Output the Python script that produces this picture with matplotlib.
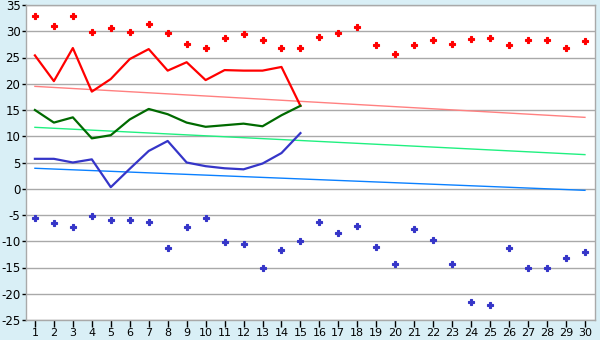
"""
Daily temperatures: observed max/min (markers), running lines for the
first half of the month and linear trend lines.
"""
import matplotlib
matplotlib.use("Agg")
import matplotlib.pyplot as plt

days = list(range(1, 31))

# observed extremes (markers)
max_temp = [32.9, 31.0, 32.9, 29.8, 30.6, 29.8, 31.3, 29.6, 27.6, 26.8,
            28.8, 29.4, 28.3, 26.8, 26.9, 29.0, 29.6, 30.9, 27.3, 25.7,
            27.3, 28.3, 27.5, 28.5, 28.7, 27.3, 28.3, 28.3, 26.8, 28.1]
min_temp = [-5.6, -6.6, -7.2, -5.1, -6.0, -6.0, -6.4, -11.2, -7.2, -5.6,
            -10.2, -10.6, -15.0, -11.7, -10.0, -6.4, -8.5, -7.0, -11.0, -14.4,
            -7.7, -9.8, -14.4, -21.6, -22.2, -11.2, -15.0, -15.0, -13.1, -12.1]

# lines for days 1-15
line_days = list(range(1, 16))
line_high = [25.4, 20.5, 26.8, 18.5, 20.9, 24.7, 26.6, 22.5, 24.1, 20.7,
             22.6, 22.5, 22.5, 23.2, 15.8]
line_mid = [15.0, 12.6, 13.6, 9.6, 10.2, 13.2, 15.2, 14.2, 12.6, 11.8,
            12.1, 12.4, 11.9, 14.0, 15.8]
line_low = [5.7, 5.7, 5.0, 5.6, 0.3, 3.8, 7.2, 9.1, 5.0, 4.3,
            3.9, 3.7, 4.8, 6.8, 10.6]

# trend lines, values at day 1 and day 30
trend_days = [1, 30]
trend_high = [19.5, 13.6]
trend_mid = [11.7, 6.5]
trend_low = [3.9, -0.3]

yticks = list(range(-25, 36, 5))

bg = "#d9eff6"
grid_col = "#a9a9a9"

fig = plt.figure(figsize=(6, 3.4), dpi=100, facecolor=bg)
ax = fig.add_axes([26 / 600, 1 - 320 / 340, 569 / 600, 315 / 340])
ax.set_facecolor("white")

ax.plot(trend_days, trend_high, color="#ff8080", lw=1.0, zorder=2)
ax.plot(trend_days, trend_mid, color="#20f080", lw=1.0, zorder=2)
ax.plot(trend_days, trend_low, color="#0a80ff", lw=1.0, zorder=2)

ax.plot(line_days, line_high, color="#ff0000", lw=1.6, zorder=3)
ax.plot(line_days, line_mid, color="#006a00", lw=1.6, zorder=3)
ax.plot(line_days, line_low, color="#3535c8", lw=1.6, zorder=3)

ax.plot(days, max_temp, ls="none", marker="P", ms=5, color="#ff0000",
        mew=0.8, zorder=4)
ax.plot(days, min_temp, ls="none", marker="P", ms=5, color="#3535c8",
        mew=0.8, zorder=4)

ax.set_xlim(0.53, 30.53)
ax.set_ylim(-25, 35)
ax.set_xticks(days)
ax.set_yticks(yticks)
ax.set_yticklabels([str(v) for v in yticks])
ax.yaxis.grid(True, color=grid_col, lw=1.0)
ax.set_axisbelow(True)

for side in ["left", "bottom", "right", "top"]:
    ax.spines[side].set_color(grid_col)
    ax.spines[side].set_linewidth(1.0)

ax.tick_params(axis="x", length=5, width=1, color="#000000", pad=1,
               labelsize=8)
ax.tick_params(axis="y", length=3, width=1, color="#000000", pad=1,
               labelsize=8.5)

fig.savefig("out.png", dpi=100, facecolor=bg)
